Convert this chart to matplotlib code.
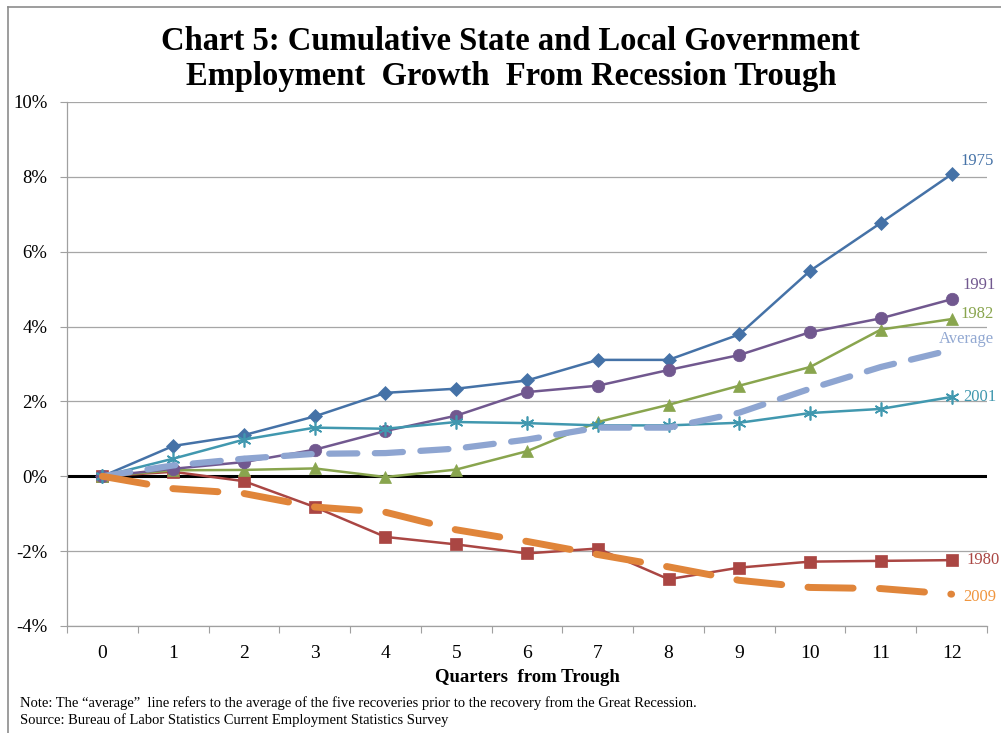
import matplotlib
matplotlib.use("Agg")
import matplotlib.pyplot as plt
from matplotlib.lines import Line2D

plt.rcParams['font.family'] = ['Liberation Serif', 'DejaVu Serif']

quarters = list(range(13))
s1975 = [0, 0.81, 1.10, 1.60, 2.23, 2.34, 2.56, 3.11, 3.11, 3.79, 5.49, 6.77, 8.07]
s1980 = [0, 0.12, -0.13, -0.82, -1.62, -1.82, -2.06, -1.93, -2.75, -2.44, -2.28, -2.26, -2.24]
s1982 = [0, 0.16, 0.17, 0.21, -0.02, 0.18, 0.67, 1.45, 1.91, 2.42, 2.92, 3.92, 4.20]
s1991 = [0, 0.20, 0.38, 0.71, 1.21, 1.62, 2.25, 2.42, 2.84, 3.24, 3.85, 4.22, 4.73]
s2001 = [0, 0.47, 0.98, 1.30, 1.27, 1.45, 1.42, 1.36, 1.36, 1.43, 1.69, 1.80, 2.12]
average = [0, 0.29, 0.47, 0.60, 0.62, 0.74, 0.98, 1.30, 1.30, 1.70, 2.34, 2.92, 3.38]
s2009 = [0, -0.33, -0.46, -0.82, -0.96, -1.43, -1.74, -2.09, -2.42, -2.78, -2.97, -3.00, -3.15]

yticks = [-4, -2, 0, 2, 4, 6, 8, 10]
ytick_labels = ['-4%', '-2%', '0%', '2%', '4%', '6%', '8%', '10%']

fig = plt.figure(figsize=(10.01, 7.33), dpi=100)
ax = fig.add_axes([67 / 1001, 1 - 626 / 733, 920 / 1001, 524 / 733])

ax.axhline(0, color='black', lw=2.2, zorder=2)

# (values, colour, marker, marker size, label, label offset px)
series = [
    (s1975, '#4572A7', 'D', 7, '1975', (9, 13)),
    (s1980, '#AA4643', 's', 8, '1980', (15, 0)),
    (s1982, '#89A54E', '^', 9, '1982', (9, 5)),
    (s1991, '#71588F', 'o', 9, '1991', (11, 14)),
    (s2001, '#4198AF', (6, 2, 0), 10, '2001', (12, 0)),
]
for vals, col, mk, ms, lab, off in series:
    ax.plot(quarters, vals, color=col, lw=1.8, marker=mk, ms=ms,
            markeredgewidth=1.2 if mk == (6, 2, 0) else 0.5,
            markeredgecolor=col, zorder=3)
    ax.annotate(lab, (quarters[-1], vals[-1]), xytext=off, textcoords='offset pixels',
                ha='left', va='center', color=col, fontsize=12)

ax.plot(quarters, average, color='#8EA5D1', lw=4.5, dashes=(4.5, 2.8),
        dash_capstyle='round', zorder=4)
ax.annotate('Average', (quarters[-1], average[-1]), xytext=(-13, 11), textcoords='offset pixels',
            ha='left', va='center', color='#93A9D2', fontsize=12)

ax.plot(quarters, s2009, color='#E0853A', lw=5, dashes=(6.5, 3.8),
        dash_capstyle='round', zorder=4)
ax.annotate('2009', (quarters[-1], s2009[-1]), xytext=(12, -3), textcoords='offset pixels',
            ha='left', va='center', color='#F0963F', fontsize=12)

ax.set_xlim(-0.5, 12.5)
ax.set_ylim(-4, 10)
ax.set_yticks(yticks)
ax.set_yticklabels(ytick_labels)
ax.set_xticks(quarters)
ax.set_xticks([q - 0.5 for q in quarters] + [12.5], minor=True)
ax.tick_params(axis='x', which='major', length=0, pad=14, labelsize=14)
ax.tick_params(axis='x', which='minor', length=5, color='#a0a0a0', width=0.8)
ax.tick_params(axis='y', length=5, color='#a0a0a0', width=0.8, pad=9, labelsize=13.5)
ax.grid(axis='y', color='#a6a6a6', lw=0.9, zorder=1)
for side in ['top', 'right']:
    ax.spines[side].set_visible(False)
for side in ['left', 'bottom']:
    ax.spines[side].set_color('#a0a0a0')
    ax.spines[side].set_linewidth(0.9)

ax.set_xlabel('Quarters  from Trough', fontsize=13.5, fontweight='bold', labelpad=5)

fig.text(0.51, 1 - 41 / 733, 'Chart 5: Cumulative State and Local Government',
         ha='center', va='center', fontsize=23.5, fontweight='bold')
fig.text(0.511, 1 - 76 / 733, 'Employment  Growth  From Recession Trough',
         ha='center', va='center', fontsize=23.5, fontweight='bold')
fig.text(20 / 1001, 1 - 703 / 733,
         'Note: The \u201caverage\u201d  line refers to the average of the five recoveries prior to the recovery from the Great Recession.',
         ha='left', va='center', fontsize=10.5)
fig.text(20 / 1001, 1 - 720 / 733,
         'Source: Bureau of Labor Statistics Current Employment Statistics Survey',
         ha='left', va='center', fontsize=10.5)

# chart frame
fig.add_artist(Line2D([8 / 1001, 8 / 1001], [0, 1 - 7 / 733], color='#8c8c8c', lw=1.2))
fig.add_artist(Line2D([8 / 1001, 1], [1 - 7 / 733, 1 - 7 / 733], color='#8c8c8c', lw=1.2))

fig.savefig('out.png', dpi=100)
